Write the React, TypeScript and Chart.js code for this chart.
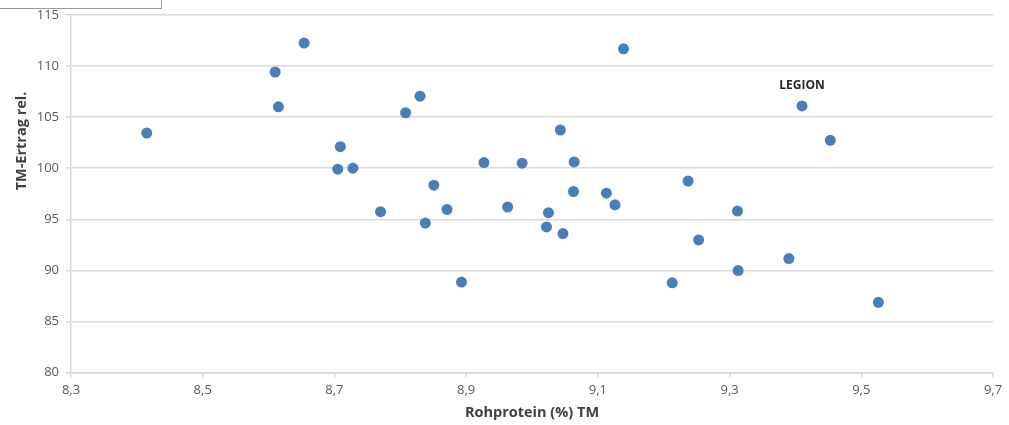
import React, { useEffect, useRef } from "react";
import { Chart, registerables } from "chart.js";

Chart.register(...registerables);

// Rohprotein (%) TM
const proteinValues: number[] = [
  8.415, 8.610, 8.615, 8.654, 8.709, 8.705, 8.728, 8.770, 8.808, 8.830,
  8.838, 8.851, 8.871, 8.893, 8.927, 8.963, 8.985, 9.022, 9.025, 9.043,
  9.047, 9.064, 9.063, 9.139, 9.113, 9.126, 9.213, 9.237, 9.253, 9.312,
  9.313, 9.390, 9.410, 9.453, 9.526,
];

// TM-Ertrag rel.
const yieldValues: number[] = [
  103.44, 109.42, 106.01, 112.25, 102.11, 99.9, 100.0, 95.74, 105.43, 107.05,
  94.63, 98.34, 95.96, 88.85, 100.55, 96.2, 100.49, 94.25, 95.65, 103.74,
  93.6, 100.62, 97.72, 111.69, 97.56, 96.42, 88.78, 98.74, 92.98, 95.8,
  89.98, 91.15, 106.1, 102.73, 86.87,
];

// point labels (index -> text)
const pointLabels: string[] = yieldValues.map((_, i) => (i === 32 ? "LEGION" : ""));

const xTickValues: number[] = [8.3, 8.5, 8.7, 8.9, 9.1, 9.3, 9.5, 9.7];
const yTickValues: number[] = [80, 85, 90, 95, 100, 105, 110, 115];

const xTitle = "Rohprotein (%) TM";
const yTitle = "TM-Ertrag rel.";

const FONT = "'Open Sans', 'Liberation Sans', sans-serif";

export default function App() {
  const canvasRef = useRef<HTMLCanvasElement | null>(null);

  useEffect(() => {
    const canvas = canvasRef.current;
    if (!canvas) return;

    const labelPlugin = {
      id: "extras",
      afterDatasetsDraw(chart: any) {
        const ctx = chart.ctx;
        const xs = chart.scales.x;
        const ys = chart.scales.y;
        ctx.save();
        ctx.font = `bold 12px ${FONT}`;
        ctx.fillStyle = "#262626";
        ctx.textAlign = "center";
        ctx.textBaseline = "middle";
        pointLabels.forEach((t, i) => {
          if (!t) return;
          const px = xs.getPixelForValue(proteinValues[i]);
          const py = ys.getPixelForValue(yieldValues[i]);
          ctx.fillText(t, px, py - 20);
        });
        // y axis title
        ctx.translate(22, 141);
        ctx.rotate(-Math.PI / 2);
        ctx.font = `bold 14.5px ${FONT}`;
        ctx.fillStyle = "#404040";
        ctx.fillText(yTitle, 0, 0);
        ctx.restore();
      },
    };

    const chart = new Chart(canvas, {
      type: "scatter",
      data: {
        datasets: [
          {
            label: yTitle,
            data: proteinValues.map((x, i) => ({ x, y: yieldValues[i] })),
            backgroundColor: "#4A7EBB",
            borderColor: "#4A7EBB",
            pointRadius: 5.5,
            pointHoverRadius: 5.5,
            borderWidth: 0,
          },
        ],
      },
      options: {
        animation: false,
        responsive: false,
        maintainAspectRatio: false,
        layout: { padding: { top: 15, right: 16, left: 0, bottom: 0 } },
        plugins: {
          legend: { display: false },
          tooltip: { enabled: false },
        },
        scales: {
          x: {
            type: "linear",
            min: 8.3,
            max: 9.7,
            afterFit(scale: any) {
              scale.height = 52.5;
            },
            afterBuildTicks(scale: any) {
              scale.ticks = xTickValues.map((v) => ({ value: v }));
            },
            ticks: {
              color: "#595959",
              font: { family: FONT, size: 13 },
              padding: 5,
              maxRotation: 0,
              callback: (v: any) => Number(v).toFixed(1).replace(".", ","),
            },
            grid: {
              drawOnChartArea: false,
              drawTicks: true,
              tickLength: 5,
              color: "#d9d9d9",
              lineWidth: 1.5,
            },
            border: { display: true, color: "#d9d9d9", width: 1.5 },
            title: {
              display: true,
              text: xTitle,
              color: "#404040",
              font: { family: FONT, size: 14.5, weight: "bold" },
              padding: { top: 1, bottom: 3 },
            },
          },
          y: {
            type: "linear",
            min: 80,
            max: 115,
            afterFit(scale: any) {
              scale.width = 71;
            },
            afterBuildTicks(scale: any) {
              scale.ticks = yTickValues.map((v) => ({ value: v }));
            },
            ticks: {
              color: "#595959",
              font: { family: FONT, size: 13 },
              padding: 7,
              callback: (v: any) => String(v),
            },
            grid: {
              drawOnChartArea: true,
              drawTicks: true,
              tickLength: 5,
              color: "#d9d9d9",
              lineWidth: 1.5,
            },
            border: { display: true, color: "#d9d9d9", width: 1.5 },
          },
        },
      },
      plugins: [labelPlugin],
    });

    return () => chart.destroy();
  }, []);

  return (
    <div
      style={{
        position: "fixed",
        left: 0,
        top: 0,
        width: 1009,
        height: 425,
        background: "#ffffff",
        overflow: "hidden",
      }}
    >
      <canvas ref={canvasRef} width={1009} height={425} style={{ display: "block" }} />
      <div
        style={{
          position: "absolute",
          left: -2,
          top: -2,
          width: 164,
          height: 11,
          border: "1px solid #9a9a9a",
          background: "#ffffff",
          boxSizing: "border-box",
        }}
      />
    </div>
  );
}
